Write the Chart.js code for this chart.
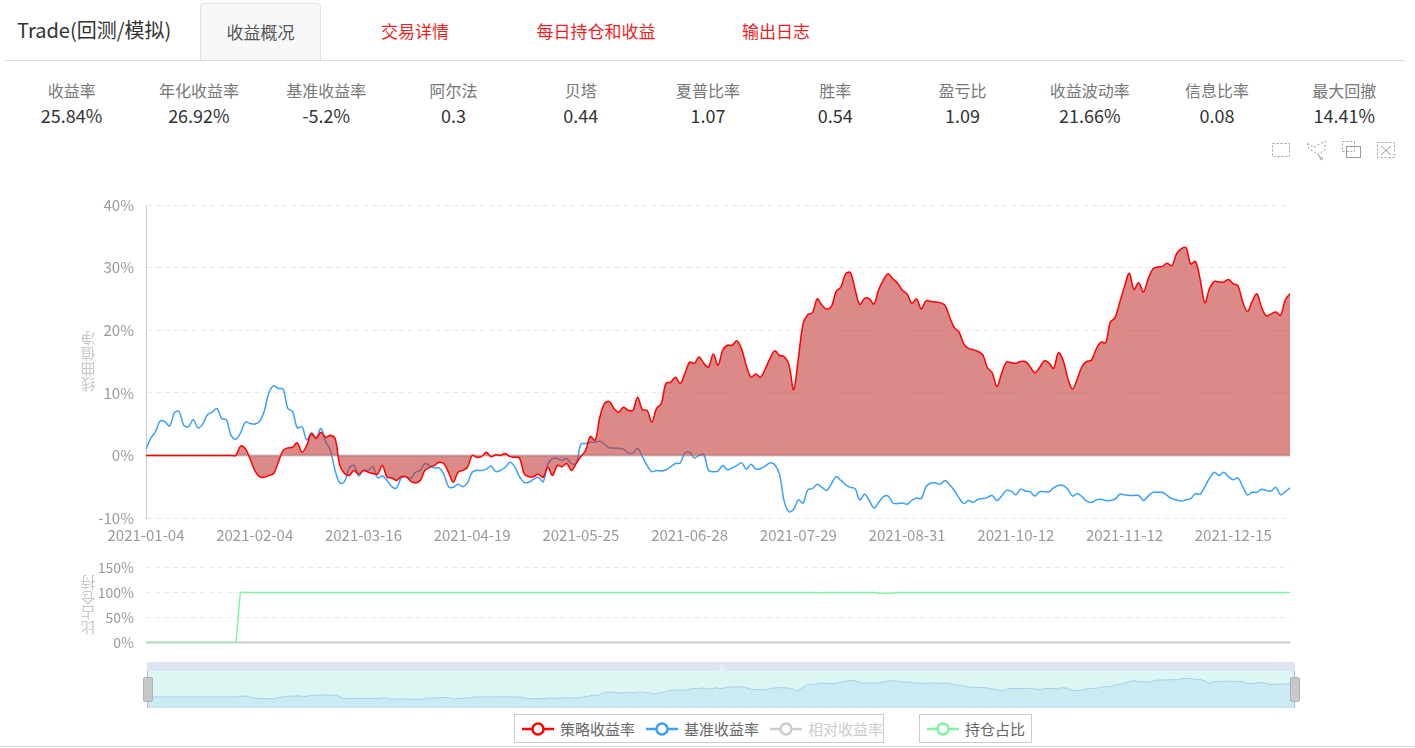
<!DOCTYPE html>
<html>
<head>
<meta charset="utf-8">
<script src="https://cdn.jsdelivr.net/npm/chart.js@4.4.1/dist/chart.umd.min.js"></script>
<style>
  body { margin: 0; width: 1415px; height: 748px; overflow: hidden; background: #fff; position: relative;
         font-family: "Noto Sans CJK SC", "Noto Sans", sans-serif; }
  .abs { position: absolute; }
  #title { left: 17px; top: 15px; font-size: 20px; color: #333; line-height: 30px; }
  .tab { top: 3px; height: 57px; line-height: 56px; text-align: center; font-size: 17px; color: #eb1f1f; }
  .tab.active { color: #555; background: #f7f8fa; border: 1px solid #e2e2e2; border-bottom: none;
                border-radius: 4px 4px 0 0; box-sizing: border-box; }
  #hr { left: 5px; top: 60px; width: 1400px; height: 1px; background: #ddd; }
  #stats { left: 8px; top: 78px; width: 1400px; display: flex; }
  .stat { width: 127.3px; text-align: center; }
  .stat .k { font-size: 16px; color: #777; line-height: 24px; }
  .stat .v { font-size: 18px; color: #333; line-height: 26px; }
  #slider { left: 147px; top: 662px; width: 1148px; height: 46px; }
  #sliderBar { left: 0; top: 0; width: 1148px; height: 9px; background: #dee4f1; }
  #sliderBody { left: 0; top: 9px; width: 1148px; height: 36px; background: #dcf7f3; border-bottom: 1px solid #d3dbe6; }
  .edge { top: 9px; width: 1px; height: 37px; background: #aab8d2; }
  .handle { top: 15px; width: 8px; height: 23px; background: #c8c8c8; border: 1px solid #a9b3c8; border-radius: 2px; }
  #grip { left: 571px; top: 0; width: 8px; height: 9px; color: #fff; font-size: 6px; line-height: 9px; text-align: center; }
  .legendBox { top: 714px; height: 29px; border: 1px solid #ccc; box-sizing: border-box; display: flex; align-items: center; padding-left: 7px; white-space: nowrap; }
  .item { display: flex; align-items: center; margin-right: 11px; font-size: 15px; color: #666; white-space: nowrap; flex-shrink: 0; }
  .item svg { margin-right: 6px; flex-shrink: 0; }
  .item.off { color: #ccc; }
  #bottomLine { left: 0; top: 746px; width: 1415px; height: 1px; background: #ddd; }
</style>
</head>
<body>
<div id="title" class="abs">Trade(回测/模拟)</div>
<div class="abs tab active" style="left:200px;width:121px;">收益概况</div>
<div class="abs tab" style="left:355px;width:120px;">交易详情</div>
<div class="abs tab" style="left:516px;width:160px;">每日持仓和收益</div>
<div class="abs tab" style="left:716px;width:120px;">输出日志</div>
<div id="hr" class="abs"></div>
<div id="stats" class="abs"></div>

<svg class="abs" style="left:0;top:0" width="1415" height="170" fill="none" stroke="#999" stroke-width="1">
  <rect x="1272.5" y="143.5" width="17" height="13" stroke-dasharray="2,2"/>
  <polyline points="1307.5,143.5 1313.5,147.5 1320.5,143.5 1325.5,141.5 1324.5,150.5 1317.5,154.5 1313.5,151.5 1308.5,148.5 1307.5,143.5" stroke-dasharray="2,2"/>
  <path d="M1318.5 154.5 L1320.5 158.5" /><circle cx="1321.5" cy="158.5" r="1.2"/>
  <rect x="1342.5" y="141.5" width="12" height="10" stroke-dasharray="2,2"/>
  <rect x="1346.5" y="146.5" width="14" height="11"/>
  <rect x="1377.5" y="142.5" width="17" height="15" stroke-dasharray="2,2"/>
  <path d="M1381 146 L1391 155 M1391 146 L1381 155"/>
</svg>

<canvas id="mainChart" class="abs" style="left:0;top:180px" width="1415" height="380"></canvas>
<canvas id="posChart" class="abs" style="left:0;top:547px" width="1415" height="116"></canvas>

<div id="slider" class="abs">
  <div id="sliderBar" class="abs"></div>
  <div id="sliderBody" class="abs"><canvas id="zoomChart" width="1148" height="36"></canvas></div>
  <div id="grip" class="abs">|||</div>
  <div class="abs edge" style="left:0"></div>
  <div class="abs edge" style="left:1147px"></div>
  <div class="abs handle" style="left:-4px"></div>
  <div class="abs handle" style="left:1143px"></div>
</div>

<div class="abs legendBox" style="left:514px;width:370px;">
  <div class="item"><svg width="32" height="16"><line x1="0" y1="8" x2="32" y2="8" stroke="#ff0000" stroke-width="2.5"/><circle cx="16" cy="8" r="5.5" fill="#fff" stroke="#ff0000" stroke-width="2.5"/></svg>策略收益率</div>
  <div class="item"><svg width="32" height="16"><line x1="0" y1="8" x2="32" y2="8" stroke="#3ba0f5" stroke-width="2.5"/><circle cx="16" cy="8" r="5.5" fill="#fff" stroke="#3ba0f5" stroke-width="2.5"/></svg>基准收益率</div>
  <div class="item off"><svg width="32" height="16"><line x1="0" y1="8" x2="32" y2="8" stroke="#ccc" stroke-width="2.5"/><circle cx="16" cy="8" r="5.5" fill="#fff" stroke="#ccc" stroke-width="2.5"/></svg>相对收益率</div>
</div>
<div class="abs legendBox" style="left:919px;width:113px;">
  <div class="item"><svg width="32" height="16"><line x1="0" y1="8" x2="32" y2="8" stroke="#7ef5a0" stroke-width="2.5"/><circle cx="16" cy="8" r="5.5" fill="#fff" stroke="#7ef5a0" stroke-width="2.5"/></svg>持仓占比</div>
</div>
<div id="bottomLine" class="abs"></div>

<script>
const statLabels = ["收益率", "年化收益率", "基准收益率", "阿尔法", "贝塔", "夏普比率", "胜率", "盈亏比", "收益波动率", "信息比率", "最大回撤"];
const statValues = ["25.84%", "26.92%", "-5.2%", "0.3", "0.44", "1.07", "0.54", "1.09", "21.66%", "0.08", "14.41%"];

const dates = [
  "2021-01-04","2021-01-05","2021-01-06","2021-01-07","2021-01-08","2021-01-11","2021-01-12","2021-01-13","2021-01-14","2021-01-15",
  "2021-01-18","2021-01-19","2021-01-20","2021-01-21","2021-01-22","2021-01-25","2021-01-26","2021-01-27","2021-01-28","2021-01-29",
  "2021-02-01","2021-02-02","2021-02-03","2021-02-04","2021-02-05","2021-02-08","2021-02-09","2021-02-10","2021-02-18","2021-02-19",
  "2021-02-22","2021-02-23","2021-02-24","2021-02-25","2021-02-26",
  "2021-03-01","2021-03-02","2021-03-03","2021-03-04","2021-03-05","2021-03-08","2021-03-09","2021-03-10","2021-03-11","2021-03-12",
  "2021-03-15","2021-03-16","2021-03-17","2021-03-18","2021-03-19","2021-03-22","2021-03-23","2021-03-24","2021-03-25","2021-03-26",
  "2021-03-29","2021-03-30","2021-03-31",
  "2021-04-01","2021-04-02","2021-04-06","2021-04-07","2021-04-08","2021-04-09","2021-04-12","2021-04-13","2021-04-14","2021-04-15",
  "2021-04-16","2021-04-19","2021-04-20","2021-04-21","2021-04-22","2021-04-23","2021-04-26","2021-04-27","2021-04-28","2021-04-29",
  "2021-04-30",
  "2021-05-06","2021-05-07","2021-05-10","2021-05-11","2021-05-12","2021-05-13","2021-05-14","2021-05-17","2021-05-18","2021-05-19",
  "2021-05-20","2021-05-21","2021-05-24","2021-05-25","2021-05-26","2021-05-27","2021-05-28","2021-05-31",
  "2021-06-01","2021-06-02","2021-06-03","2021-06-04","2021-06-07","2021-06-08","2021-06-09","2021-06-10","2021-06-11","2021-06-15",
  "2021-06-16","2021-06-17","2021-06-18","2021-06-21","2021-06-22","2021-06-23","2021-06-24","2021-06-25","2021-06-28","2021-06-29",
  "2021-06-30",
  "2021-07-01","2021-07-02","2021-07-05","2021-07-06","2021-07-07","2021-07-08","2021-07-09","2021-07-12","2021-07-13","2021-07-14",
  "2021-07-15","2021-07-16","2021-07-19","2021-07-20","2021-07-21","2021-07-22","2021-07-23","2021-07-26","2021-07-27","2021-07-28",
  "2021-07-29","2021-07-30",
  "2021-08-02","2021-08-03","2021-08-04","2021-08-05","2021-08-06","2021-08-09","2021-08-10","2021-08-11","2021-08-12","2021-08-13",
  "2021-08-16","2021-08-17","2021-08-18","2021-08-19","2021-08-20","2021-08-23","2021-08-24","2021-08-25","2021-08-26","2021-08-27",
  "2021-08-30","2021-08-31",
  "2021-09-01","2021-09-02","2021-09-03","2021-09-06","2021-09-07","2021-09-08","2021-09-09","2021-09-10","2021-09-13","2021-09-14",
  "2021-09-15","2021-09-16","2021-09-17","2021-09-22","2021-09-23","2021-09-24","2021-09-27","2021-09-28","2021-09-29","2021-09-30",
  "2021-10-08","2021-10-11","2021-10-12","2021-10-13","2021-10-14","2021-10-15","2021-10-18","2021-10-19","2021-10-20","2021-10-21",
  "2021-10-22","2021-10-25","2021-10-26","2021-10-27","2021-10-28","2021-10-29",
  "2021-11-01","2021-11-02","2021-11-03","2021-11-04","2021-11-05","2021-11-08","2021-11-09","2021-11-10","2021-11-11","2021-11-12",
  "2021-11-15","2021-11-16","2021-11-17","2021-11-18","2021-11-19","2021-11-22","2021-11-23","2021-11-24","2021-11-25","2021-11-26",
  "2021-11-29","2021-11-30",
  "2021-12-01","2021-12-02","2021-12-03","2021-12-06","2021-12-07","2021-12-08","2021-12-09","2021-12-10","2021-12-13","2021-12-14",
  "2021-12-15","2021-12-16","2021-12-17","2021-12-20","2021-12-21","2021-12-22","2021-12-23","2021-12-24","2021-12-27","2021-12-28",
  "2021-12-29","2021-12-30","2021-12-31"
];

// 策略收益率 (%)
const strategyReturn = [
  0,0,0,0,0,0,0,0,0,0, 0,0,0,0,0,0,0,0,0,0,
  1.5,1.1,-0.5,-2.4,-3.4,-3.5,-3.2,-2.9,-1.1,0.8,
  1.2,1.3,2.0,0.5,1.6,3.5,2.7,3.7,2.9,3.2,
  2.7,-1.6,-2.9,-3.2,-2.4,-3.0,-2.4,-2.7,-2.9,-3.0,
  -1.6,-3.5,-3.6,-4.0,-3.4,-3.4,-4.1,-4.4,-4.0,-2.4,
  -1.9,-1.6,-1.1,-1.3,-2.7,-4.3,-2.7,-2.4,-1.9,0.0,
  -0.3,-0.2,0.5,-0.2,0.1,0.0,0.3,-0.2,-0.3,-0.4,
  -2.9,-3.4,-3.4,-3.0,-3.5,-1.9,-3.2,-1.6,-1.8,-1.3,
  -2.4,-1.3,-0.2,0.8,3.0,2.4,6.1,8.3,8.6,7.5,
  6.9,7.7,7.2,7.2,9.3,7.3,7.2,5.3,7.5,8.3,
  11.5,11.7,12.5,11.5,13.1,14.9,14.7,15.7,14.7,14.1,
  16.2,14.4,16.8,17.6,17.6,18.3,17.0,14.3,12.5,13.0,
  12.5,13.8,15.5,16.7,16.0,15.8,14.5,10.5,15.5,21.0,
  22.5,22.8,25.0,24.0,23.4,23.8,26.2,26.9,29.0,29.2,
  26.5,24.1,25.1,25.0,24.2,26.5,28.0,29.0,28.2,27.5,
  26.4,25.8,24.3,25.0,23.4,24.7,24.6,24.5,24.4,24.0,
  22.1,20.4,19.7,17.8,17.1,16.9,16.6,16.1,14.0,13.2,
  11.0,13.1,14.9,14.8,14.7,15.0,15.0,14.2,13.2,14.0,
  15.1,14.8,13.9,16.4,15.2,12.3,10.6,12.2,14.2,15.0,
  15.2,17.0,18.1,18.0,21.3,22.0,24.5,27.0,29.1,26.5,
  27.6,26.1,28.2,29.8,30.1,30.2,30.7,30.3,32.2,33.0,
  33.2,30.6,31.0,28.1,24.4,26.7,27.8,27.7,27.7,28.1,
  27.4,27.1,24.5,23.0,24.6,25.8,23.6,22.3,22.6,22.9,
  22.4,24.8,25.84
];

// 基准收益率 (%)
const benchmarkReturn = [
  1.0,2.7,3.8,5.5,5.4,4.7,6.8,7.0,4.8,4.6,
  5.7,4.4,5.0,6.5,6.9,7.5,5.9,5.7,3.2,2.6,
  3.6,5.3,5.1,5.0,5.4,7.0,10.0,11.1,10.7,10.6,
  7.5,7.0,4.4,4.6,2.5,3.6,2.9,4.3,2.2,0.8,
  -2.4,-4.4,-4.2,-2.0,-1.6,-3.3,-2.4,-2.4,-1.8,-3.6,
  -3.3,-4.0,-5.0,-5.2,-3.6,-3.4,-3.7,-2.7,-2.4,-1.3,
  -1.6,-2.0,-2.0,-3.0,-5.0,-5.1,-4.6,-5.0,-4.4,-2.7,
  -2.4,-2.4,-2.2,-1.7,-2.6,-2.4,-1.9,-1.1,-1.8,-3.4,
  -4.3,-4.3,-3.8,-3.5,-4.2,-1.4,-0.5,-0.5,-0.8,-0.5,
  -1.3,-1.3,1.8,1.9,2.1,2.1,2.3,1.8,1.2,1.2,
  1.1,1.0,0.4,0.4,1.1,-0.2,-1.6,-2.6,-2.4,-2.5,
  -2.3,-1.8,-1.3,-1.2,0.4,0.5,-0.4,0.0,0.1,-2.4,
  -2.6,-2.5,-1.6,-2.3,-2.0,-1.6,-1.2,-2.2,-1.4,-2.2,
  -2.1,-1.7,-1.2,-1.5,-3.0,-7.3,-9.0,-8.6,-7.1,-7.6,
  -5.5,-5.3,-4.6,-5.1,-5.6,-4.5,-3.4,-4.0,-4.7,-5.1,
  -5.3,-7.1,-6.2,-7.2,-8.4,-7.5,-6.6,-6.5,-7.6,-7.7,
  -7.6,-7.8,-7.2,-6.8,-6.9,-5.0,-4.4,-4.4,-4.6,-4.0,
  -4.7,-5.6,-6.8,-7.7,-7.2,-7.5,-7.0,-6.9,-6.7,-6.4,
  -7.2,-6.5,-5.6,-5.7,-6.3,-5.4,-5.7,-5.8,-6.5,-5.8,
  -5.8,-5.8,-5.2,-4.8,-4.8,-5.4,-6.5,-6.1,-6.6,-7.3,
  -7.5,-7.1,-7.0,-7.2,-7.2,-7.0,-6.2,-6.3,-6.4,-6.4,
  -6.4,-7.2,-6.5,-5.9,-5.9,-5.9,-6.4,-6.9,-7.1,-7.3,
  -7.1,-6.9,-6.1,-6.2,-5.0,-3.6,-2.7,-3.2,-2.7,-3.4,
  -3.9,-3.6,-5.0,-6.3,-5.9,-5.9,-5.4,-5.6,-5.7,-5.1,
  -6.3,-5.8,-5.2
];

// 持仓占比 (%)
const positionRatio = [
  0,0,0,0,0,0,0,0,0,0,0,0,0,0,0,0,0,0,0,0,
  100,100,100,100,100,100,100,100,100,100,100,100,100,100,100,100,100,100,100,100,
  100,100,100,100,100,100,100,100,100,100,100,100,100,100,100,100,100,100,100,100,
  100,100,100,100,100,100,100,100,100,100,100,100,100,100,100,100,100,100,100,100,
  100,100,100,100,100,100,100,100,100,100,100,100,100,100,100,100,100,100,100,100,
  100,100,100,100,100,100,100,100,100,100,100,100,100,100,100,100,100,100,100,100,
  100,100,100,100,100,100,100,100,100,100,100,100,100,100,100,100,100,100,100,100,
  100,100,99.6,99.6,100,100,100,100,100,100,100,100,100,100,100,98.5,98.2,98.2,98.6,100,
  100,100,100,100,100,100,100,100,100,100,100,100,100,100,100,100,100,100,100,100,
  100,100,100,100,100,100,100,100,100,100,100,100,100,100,100,100,100,100,100,100,
  100,100,100,100,100,100,100,100,100,100,100,100,100,100,100,100,100,100,100,100,
  100,100,100,100,100,100,100,100,100,100,100,100,100,100,100,100,100,100,100,100,
  100,100,100
];

const labelEvery = 23;

// stats row
const statsEl = document.getElementById("stats");
statLabels.forEach((k, i) => {
  const d = document.createElement("div");
  d.className = "stat";
  d.innerHTML = '<div class="k">' + k + '</div><div class="v">' + statValues[i] + '</div>';
  statsEl.appendChild(d);
});

const fontFamily = '"Noto Sans CJK SC", "Noto Sans", sans-serif';
Chart.defaults.font.family = fontFamily;
Chart.defaults.color = "#999";
Chart.defaults.animation = false;

// solid gray axis line at value 0
const zeroLine = {
  id: "zeroLine",
  beforeDatasetsDraw(chart) {
    const { ctx, chartArea, scales } = chart;
    const py = scales.y.getPixelForValue(0);
    ctx.save();
    ctx.strokeStyle = "#ccc";
    ctx.lineWidth = 2;
    ctx.beginPath();
    ctx.moveTo(chartArea.left, py);
    ctx.lineTo(chartArea.right, py);
    ctx.stroke();
    ctx.restore();
  }
};

// vertical axis name, one glyph per row
const axisName = {
  id: "axisName",
  afterDraw(chart, args, opts) {
    const { ctx, chartArea } = chart;
    const cy = (chartArea.top + chartArea.bottom) / 2;
    const chars = Array.from(opts.text);
    ctx.save();
    ctx.fillStyle = "#c8c8c8";
    ctx.font = "15px " + fontFamily;
    ctx.textAlign = "center";
    ctx.textBaseline = "middle";
    chars.forEach((c, k) => {
      ctx.save();
      ctx.translate(opts.x, cy + (k - (chars.length - 1) / 2) * opts.step);
      ctx.rotate(Math.PI);
      ctx.fillText(c, 0, 0);
      ctx.restore();
    });
    ctx.restore();
  }
};

new Chart(document.getElementById("mainChart"), {
  type: "line",
  data: {
    labels: dates,
    datasets: [
      {
        label: "策略收益率",
        data: strategyReturn,
        borderColor: "#ff0000",
        borderWidth: 1.5,
        backgroundColor: "rgba(194,53,49,0.58)",
        fill: "origin",
        pointRadius: 0,
        tension: 0.35
      },
      {
        label: "基准收益率",
        data: benchmarkReturn,
        borderColor: "#3ba0f5",
        borderWidth: 1.5,
        fill: false,
        pointRadius: 0,
        tension: 0.35
      }
    ]
  },
  options: {
    responsive: false,
    layout: { padding: { left: 0, right: 125, top: 25, bottom: 0 } },
    plugins: {
      legend: { display: false },
      tooltip: { enabled: false },
      axisName: { text: "净值曲线", x: 88, step: 15.5 }
    },
    scales: {
      x: {
        grid: { display: false, drawTicks: false },
        border: { display: false },
        ticks: {
          autoSkip: false,
          maxRotation: 0,
          padding: 8,
          font: { size: 15 },
          color: "#999",
          callback: (v, i) => (i % labelEvery === 0 ? dates[i] : null)
        },
        afterFit: (s) => { s.height = 42; }
      },
      y: {
        min: -10,
        max: 40,
        grid: { color: "#e8e8e8", drawTicks: false },
        border: { display: true, color: "#ccc", dash: [5, 4] },
        ticks: { stepSize: 10, padding: 12, font: { size: 15 }, color: "#999", callback: (v) => v + "%" },
        afterFit: (s) => { s.width = 146; }
      }
    }
  },
  plugins: [zeroLine, axisName]
});

new Chart(document.getElementById("posChart"), {
  type: "line",
  data: {
    labels: dates,
    datasets: [
      {
        label: "持仓占比",
        data: positionRatio,
        borderColor: "#7ef5a0",
        borderWidth: 1.5,
        fill: false,
        pointRadius: 0,
        tension: 0.2
      }
    ]
  },
  options: {
    responsive: false,
    layout: { padding: { left: 0, right: 125, top: 0, bottom: 0 } },
    plugins: {
      legend: { display: false },
      tooltip: { enabled: false },
      axisName: { text: "持仓占比", x: 88, step: 15 }
    },
    scales: {
      x: {
        grid: { display: false, drawTicks: false },
        border: { display: false },
        ticks: { display: false },
        afterFit: (s) => { s.height = 0; }
      },
      y: {
        min: 0,
        max: 150,
        grid: { color: "#e8e8e8", drawTicks: false },
        border: { display: false, dash: [5, 4] },
        ticks: { stepSize: 50, padding: 12, font: { size: 14 }, color: "#999", callback: (v) => v + "%" },
        afterFit: (s) => { s.width = 146; }
      }
    }
  },
  plugins: [zeroLine, axisName]
});

// data zoom shadow
new Chart(document.getElementById("zoomChart"), {
  type: "line",
  data: {
    labels: dates,
    datasets: [
      {
        data: strategyReturn,
        borderColor: "#a9cdec",
        borderWidth: 1,
        backgroundColor: "#cbeaf2",
        fill: "start",
        pointRadius: 0,
        tension: 0
      }
    ]
  },
  options: {
    responsive: false,
    layout: { padding: 0 },
    plugins: { legend: { display: false }, tooltip: { enabled: false } },
    scales: {
      x: { display: false },
      y: { display: false, min: -18, max: 46 }
    }
  }
});
</script>
</body>
</html>
